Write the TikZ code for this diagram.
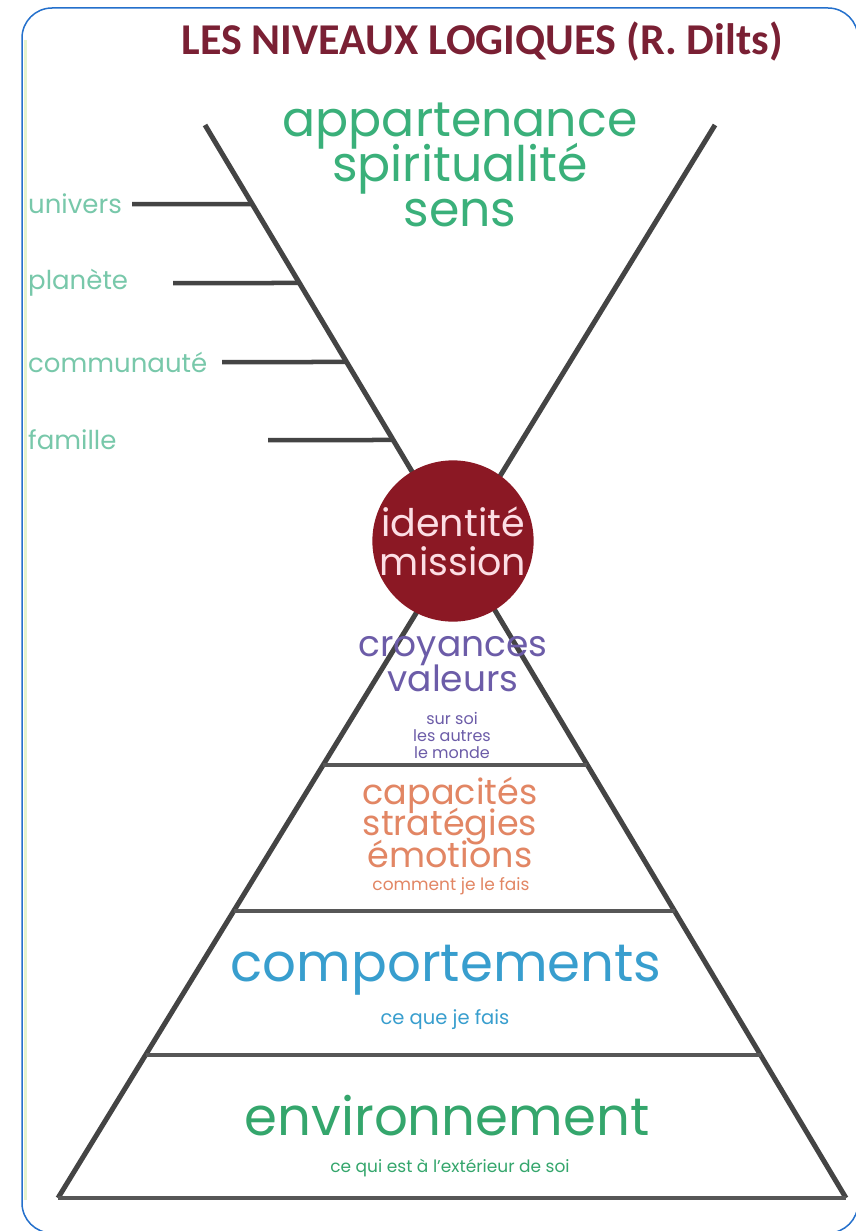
\documentclass[tikz,border=0pt]{standalone}
\usepackage{fontspec}
\setmainfont{Poppins}
\newfontfamily\headfont{Carlito}
\usetikzlibrary{calc,positioning}
\definecolor{frameblue}{RGB}{36,112,204}
\definecolor{edgegreen}{RGB}{228,242,204}
\definecolor{maroon}{RGB}{122,32,52}
\definecolor{wine}{RGB}{139,24,36}
\definecolor{blush}{RGB}{252,222,228}
\definecolor{mint}{RGB}{58,176,122}
\definecolor{sage}{RGB}{120,200,170}
\definecolor{plum}{RGB}{108,92,168}
\definecolor{salmon}{RGB}{226,134,100}
\definecolor{azure}{RGB}{56,158,206}
\definecolor{leaf}{RGB}{52,166,108}
\definecolor{ink}{RGB}{68,68,68}
% fixed line spacing, whatever the glyph heights
\newcommand\tightlines{\setlength{\lineskiplimit}{-50pt}}
\tikzset{
  axis/.style={draw=ink,line width=5pt},
  tier/.style={draw=ink!90,line width=4pt},
  tick/.style={draw=ink,line width=4.5pt},
  level/.style={inner sep=0pt,align=center},
  note/.style={inner sep=0pt,align=center},
  side/.style={inner sep=0pt,anchor=west,text=sage,font=\fontsize{26}{26}\selectfont},
  core/.style={circle,fill=wine,minimum size=154pt,inner sep=0pt,align=center,
               text=blush,font=\fontsize{38}{39}\selectfont\tightlines}
}

\begin{document}
\begin{tikzpicture}[x=1pt,y=-1pt]
  \useasboundingbox (0,0) rectangle (855,1231);
  \fill[white] (0,0) rectangle (855,1231);
  \draw[edgegreen,line width=3pt] (25.5,40) -- (25.5,1200);
  \draw[frameblue,line width=1.5pt,rounded corners=30pt] (22,8) rectangle (858,1233);

  \node[inner sep=0pt,text=maroon,font=\headfont\bfseries\fontsize{44}{44}\selectfont]
    (title) at (482,42) {LES NIVEAUX LOGIQUES (R. Dilts)};

  % crossing axes
  \coordinate (lt) at (205,125);
  \coordinate (rb) at (846,1198);
  \coordinate (rt) at (715,125);
  \coordinate (lb) at (58,1198);
  \draw[axis] (lt) -- (rb);
  \draw[axis] (rt) -- (lb);

  % pyramid tiers
  \foreach \y/\n in {765/a,911/b,1055/c,1198/d}{
    \coordinate (tl\n) at ($(rt)!{(\y-125)/1073}!(lb)$);
    \coordinate (tr\n) at ($(lt)!{(\y-125)/1073}!(rb)$);
    \draw[tier] (tl\n) -- (tr\n);
  }

  % ticks on the left arm
  \foreach \y/\x/\n in {204/132/u,283/173/p,362/222/c,440/268/f}{
    \coordinate (ts\n) at (\x,\y);
    \coordinate (te\n) at ($(lt)!{(\y-125)/1073}!(rb)$);
    \draw[tick] (ts\n) -- (te\n);
  }
  \node[side] (univers) at (28,204) {univers};
  \node[side] (planete) at (28,283) {planète};
  \node[side] (communaute) at (28,362) {communauté};
  \node[side] (famille) at (28,440) {famille};

  \node[level,text=mint,font=\fontsize{49}{45}\selectfont\tightlines]
    (sens) at (460,165) {appartenance\\spiritualité\\sens};

  \node[core] (identite) at (453,541) {identité\\mission};

  \node[level,text=plum,font=\fontsize{36}{35}\selectfont\tightlines]
    (valeurs) at (453,664) {croyances\\valeurs};
  \node[note,text=plum,font=\fontsize{16}{17}\selectfont\tightlines]
    (monde) at (452,735) {sur soi\\les autres\\le monde};

  \node[level,text=salmon,font=\fontsize{35}{31.5}\selectfont\tightlines]
    (capacites) at (450,822) {capacités\\stratégies\\émotions};
  \node[note,text=salmon,font=\fontsize{17}{17}\selectfont]
    (comment) at (451,886) {comment je le fais};

  \node[level,text=azure,font=\fontsize{53}{53}\selectfont] (comportements) at (446,970)
    {comportements};
  \node[note,text=azure,font=\fontsize{19.5}{20}\selectfont] (fais) at (445,1020)
    {ce que je fais};

  \node[level,text=leaf,font=\fontsize{53}{53}\selectfont] (environnement) at (447,1116)
    {environnement};
  \node[note,text=leaf,font=\fontsize{17}{17}\selectfont] (exterieur) at (450,1168)
    {ce qui est à l'extérieur de soi};
\end{tikzpicture}
\end{document}
